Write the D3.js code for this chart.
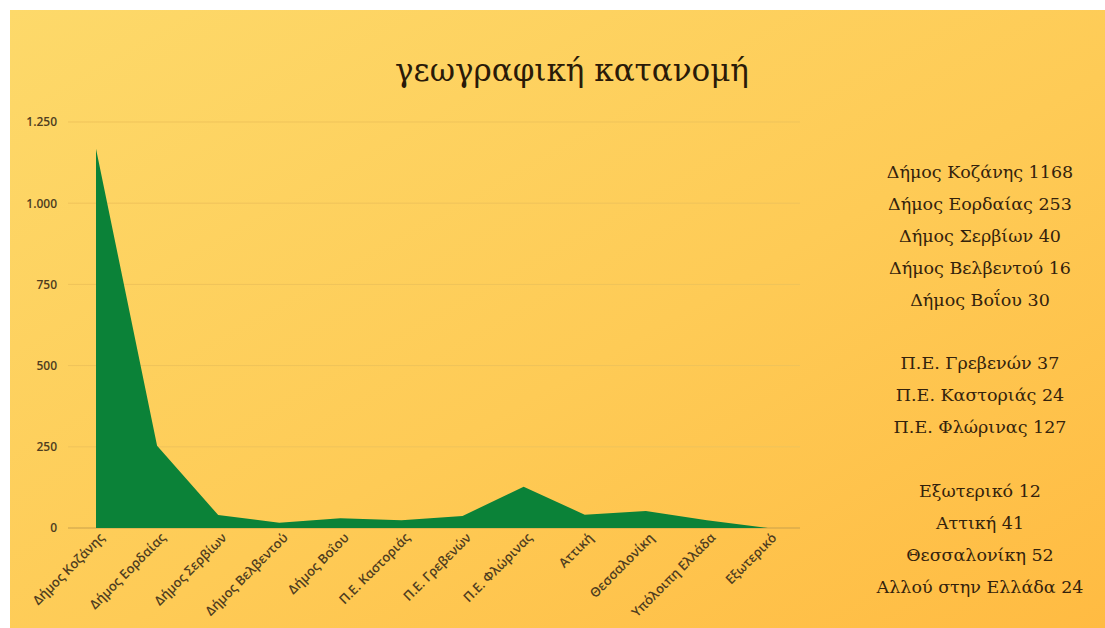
<!DOCTYPE html>
<html><head><meta charset="utf-8">
<script src="https://cdn.jsdelivr.net/npm/d3@7"></script>
<style>body{margin:0;background:#fff}svg{display:block}</style>
</head><body><svg id="c" width="1105" height="628"></svg>
<script>
const categories = ["Δήμος Κοζάνης","Δήμος Εορδαίας","Δήμος Σερβίων","Δήμος Βελβεντού","Δήμος Βοΐου","Π.Ε. Καστοριάς","Π.Ε. Γρεβενών","Π.Ε. Φλώρινας","Αττική","Θεσσαλονίκη","Υπόλοιπη Ελλάδα","Εξωτερικό"];
const values = [1168, 253, 40, 16, 30, 24, 37, 127, 41, 52, 24, 0];
const yTicks = [0, 250, 500, 750, 1000, 1250];
const title = "γεωγραφική κατανομή";
const sideLines = ["Δήμος Κοζάνης 1168","Δήμος Εορδαίας 253","Δήμος Σερβίων 40","Δήμος Βελβεντού 16","Δήμος Βοΐου 30","","Π.Ε. Γρεβενών 37","Π.Ε. Καστοριάς 24","Π.Ε. Φλώρινας 127","","Εξωτερικό 12","Αττική 41","Θεσσαλονίκη 52","Αλλού στην Ελλάδα 24"];

const svg = d3.select("#c");
const defs = svg.append("defs");
const g = defs.append("linearGradient").attr("id","bg").attr("x1","0").attr("y1","0").attr("x2","1").attr("y2","1");
g.append("stop").attr("offset","0").attr("stop-color","#fdd96a");
g.append("stop").attr("offset","0.55").attr("stop-color","#fecb56");
g.append("stop").attr("offset","1").attr("stop-color","#ffbb42");
svg.append("rect").attr("x",10).attr("y",10).attr("width",1095).attr("height",618).attr("fill","url(#bg)");

const x = d3.scalePoint().domain(categories).range([96, 768]);
const y = d3.scaleLinear().domain([0, 1250]).range([528, 122]);

// gridlines
const grid = svg.append("g");
grid.selectAll("line").data(yTicks).join("line")
  .attr("x1", 68).attr("x2", 800)
  .attr("y1", d => y(d)).attr("y2", d => y(d))
  .attr("stroke", d => d === 0 ? "#c9a04a" : "#efc35a").attr("stroke-width", 1);

// y axis
const yAxis = d3.axisLeft(y).tickValues(yTicks).tickSize(0).tickPadding(0)
  .tickFormat(d => d3.format(",")(d).replace(/,/g, "."));
const ya = svg.append("g").attr("transform","translate(57,0)").call(yAxis);
ya.select(".domain").remove();
ya.selectAll("text").attr("font-family","'Open Sans', sans-serif").attr("font-size",12).attr("font-weight",600).attr("fill","#4f3d1f");

// area
const area = d3.area().x(d => x(d.c)).y0(y(0)).y1(d => y(d.v)).curve(d3.curveLinear);
const data = categories.map((c,i)=>({c, v: values[i]}));
svg.append("path").datum(data).attr("d", area).attr("fill", "#0b8238");

// x axis
const xAxis = d3.axisBottom(x).tickSize(0).tickPadding(0);
const xa = svg.append("g").attr("transform","translate(0,541)").call(xAxis);
xa.select(".domain").remove();
xa.selectAll("text")
  .attr("font-family","'Open Sans', sans-serif").attr("font-size",13).attr("font-weight",600).attr("fill","#4f3d1f")
  .attr("text-anchor","end").attr("dy","0.35em").attr("x",8).attr("y",0)
  .attr("transform","rotate(-45)");

// title
svg.append("text").attr("x",572).attr("y",81).attr("text-anchor","middle")
  .attr("font-family","'DejaVu Serif', serif").attr("font-size",31).attr("fill","#2a1a08").text(title);

// side text
svg.append("g").selectAll("text").data(sideLines).join("text")
  .attr("x", 980).attr("y", (d,i) => 178 + i*31.9)
  .attr("text-anchor","middle")
  .attr("font-family","'DejaVu Serif', serif").attr("font-size",17.5).attr("fill","#33220c")
  .text(d => d);
</script></body></html>
